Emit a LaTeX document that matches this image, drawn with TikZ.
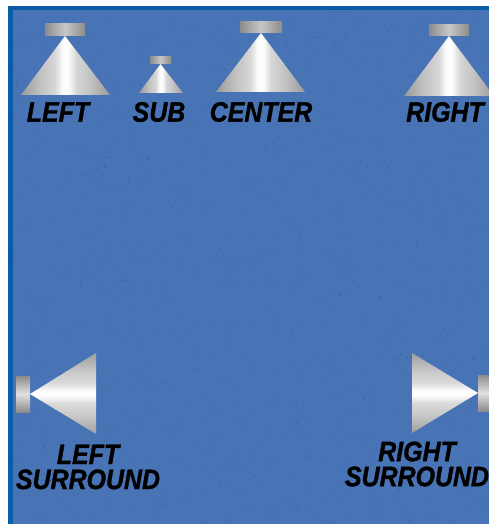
\documentclass[tikz,border=0pt]{standalone}
\usepackage{fontspec}
\setmainfont{Liberation Sans}
\newfontfamily\labelfont[FakeStretch=0.89,FakeBold=1.2,BoldFont={Liberation Sans Bold Italic}]{Liberation Sans Bold Italic}
\usepackage{xcolor}
\definecolor{panel}{HTML}{4874B5}
\definecolor{band}{HTML}{0B5CA6}
\definecolor{speck}{HTML}{2F4F80}
\pgfdeclarehorizontalshading{hmetal}{100bp}{rgb(0bp)=(.6,.6,.6);rgb(25bp)=(.6,.6,.6);rgb(36bp)=(.76,.76,.76);rgb(44bp)=(.84,.84,.84);rgb(48bp)=(.98,.98,.98);rgb(50bp)=(1,1,1);rgb(52bp)=(.98,.98,.98);rgb(56bp)=(.84,.84,.84);rgb(64bp)=(.76,.76,.76);rgb(75bp)=(.6,.6,.6);rgb(100bp)=(.6,.6,.6)}
\pgfdeclareverticalshading{vmetal}{100bp}{rgb(0bp)=(.62,.62,.62);rgb(25bp)=(.62,.62,.62);rgb(36bp)=(.78,.78,.78);rgb(44bp)=(.86,.86,.86);rgb(48bp)=(.98,.98,.98);rgb(50bp)=(1,1,1);rgb(52bp)=(.98,.98,.98);rgb(56bp)=(.86,.86,.86);rgb(64bp)=(.78,.78,.78);rgb(75bp)=(.62,.62,.62);rgb(100bp)=(.62,.62,.62)}
\tikzset{label/.style={font=\labelfont\fontsize{28}{25}\selectfont,text=black,align=center,inner sep=0pt},
 hcone/.style={shading=hmetal},
 vcone/.style={shading=vmetal},
 hcap/.style={shade,left color=black!45,right color=black!45,middle color=black!22,minimum width=#1,inner sep=0pt},
 vcap/.style={shade,top color=black!45,bottom color=black!45,middle color=black!12,minimum height=#1,inner sep=0pt}}

\begin{document}
\begin{tikzpicture}[x=1pt,y=-1pt]
\useasboundingbox (0,0) rectangle (489,524);
\fill[white] (0,0) rectangle (489,524);
\fill[band] (8,6) rectangle (489,524);
\fill[panel] (13,10) rectangle (489,524);
% specks
\pgfmathsetseed{17}
\foreach \i in {1,...,900}{
 \pgfmathsetmacro{\px}{14+rnd*474}
 \pgfmathsetmacro{\py}{11+rnd*512}
 \fill[speck,opacity=0.5] (\px,\py) circle (0.7);
}
% front speakers
\shade[hcone] (65,36)--(110,95)--(21,95)--cycle;
\node[hcap=40pt,minimum height=12pt] (leftcap) at (65,30) {};
\shade[hcone] (160.5,64)--(183,93)--(139,93)--cycle;
\node[hcap=21pt,minimum height=7pt] (subcap) at (160.5,60.5) {};
\shade[hcone] (261,33)--(305,92)--(216,92)--cycle;
\node[hcap=42pt,minimum height=11pt] (centercap) at (261,27.5) {};
\shade[hcone] (449,36)--(494,96)--(404,96)--cycle;
\node[hcap=40pt,minimum height=11pt] (rightcap) at (449,30.5) {};
% surround speakers
\shade[vcone] (30,394)--(96,353)--(96,434)--cycle;
\node[vcap=36pt,minimum width=14pt] (lscap) at (23,394) {};
\shade[vcone] (478,393)--(412,353)--(412,433)--cycle;
\node[vcap=36pt,minimum width=12pt] (rscap) at (484,393) {};
% labels
\node[label] (left) at (58,112) {LEFT};
\node[label] (sub) at (159,112) {SUB};
\node[label] (center) at (261,112) {CENTER};
\node[label] (right) at (445,112) {RIGHT};
\node[label] (ls) at (88,467) {LEFT\\SURROUND};
\node[label] (rs) at (417,464) {RIGHT\\SURROUND};
\end{tikzpicture}
\end{document}
